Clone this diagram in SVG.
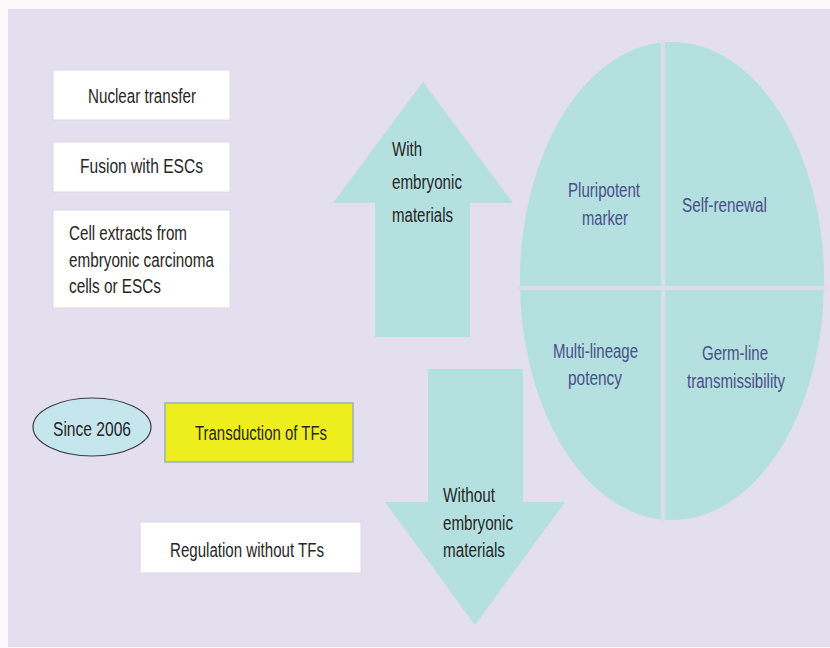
<svg xmlns="http://www.w3.org/2000/svg" width="830" height="648" viewBox="0 0 830 648">
  <style>
    .lbl { font-family: "Liberation Sans Narrow", "Liberation Sans", Arial, sans-serif; font-size: 20px; fill: #262626; }
    .prop { font-family: "Liberation Sans Narrow", "Liberation Sans", Arial, sans-serif; font-size: 20px; fill: #4a4e8a; }
    .box { fill: #ffffff; stroke: #d9d9e2; stroke-width: 1; }
    .teal { fill: #b4e0df; }
    .divider { stroke: #dcdcea; stroke-width: 4; }
  </style>

  <!-- page and panel -->
  <rect x="0" y="0" width="830" height="648" fill="#fbf7fa"/>
  <rect x="8" y="9" width="822" height="638" fill="#e3dfee"/>

  <!-- left column: methods -->
  <g id="nuclear-transfer">
    <rect class="box" x="53" y="70" width="177" height="50"/>
    <text class="lbl" x="88" y="103" textLength="108" lengthAdjust="spacingAndGlyphs">Nuclear transfer</text>
  </g>
  <g id="fusion-escs">
    <rect class="box" x="53" y="142" width="177" height="50"/>
    <text class="lbl" x="80" y="173" textLength="123" lengthAdjust="spacingAndGlyphs">Fusion with ESCs</text>
  </g>
  <g id="cell-extracts">
    <rect class="box" x="53" y="210" width="177" height="98"/>
    <text class="lbl" x="69" y="240" textLength="118" lengthAdjust="spacingAndGlyphs">Cell extracts from</text>
    <text class="lbl" x="69" y="267" textLength="145" lengthAdjust="spacingAndGlyphs">embryonic carcinoma</text>
    <text class="lbl" x="69" y="293" textLength="92" lengthAdjust="spacingAndGlyphs">cells or ESCs</text>
  </g>
  <g id="since-2006">
    <ellipse cx="92" cy="427" rx="59" ry="29" fill="#c6e6ee" stroke="#3a3a44" stroke-width="1.2"/>
    <text class="lbl" x="53" y="436" textLength="78" lengthAdjust="spacingAndGlyphs">Since 2006</text>
  </g>
  <g id="transduction">
    <rect x="165" y="403" width="188" height="59" fill="#eeee1e" stroke="#9fb0b4" stroke-width="1.5"/>
    <text class="lbl" x="195" y="440" textLength="132" lengthAdjust="spacingAndGlyphs">Transduction of TFs</text>
  </g>
  <g id="regulation">
    <rect class="box" x="140" y="522" width="221" height="51"/>
    <text class="lbl" x="170" y="557" textLength="154" lengthAdjust="spacingAndGlyphs">Regulation without TFs</text>
  </g>

  <!-- big arrows -->
  <g id="connectors">
    <g id="arrow-up">
      <polygon class="teal" points="423,82 513,203 470,203 470,337 375,337 375,203 333,203"/>
      <text class="lbl" x="392" y="156" textLength="30" lengthAdjust="spacingAndGlyphs">With</text>
      <text class="lbl" x="392" y="189" textLength="70" lengthAdjust="spacingAndGlyphs">embryonic</text>
      <text class="lbl" x="392" y="222" textLength="61" lengthAdjust="spacingAndGlyphs">materials</text>
    </g>
    <g id="arrow-down">
      <polygon class="teal" points="428,369 523,369 523,502 565,502 475,625 385,502 428,502"/>
      <text class="lbl" x="443" y="502" textLength="52" lengthAdjust="spacingAndGlyphs">Without</text>
      <text class="lbl" x="443" y="530" textLength="70" lengthAdjust="spacingAndGlyphs">embryonic</text>
      <text class="lbl" x="443" y="557" textLength="62" lengthAdjust="spacingAndGlyphs">materials</text>
    </g>
  </g>

  <!-- pluripotency properties -->
  <g id="properties">
    <ellipse class="teal" cx="672" cy="281" rx="152" ry="239"/>
    <line class="divider" x1="663" y1="40" x2="663" y2="522"/>
    <line class="divider" x1="518" y1="288" x2="826" y2="288"/>
  </g>
  <g id="pluripotent-marker">
    <text class="prop" x="568" y="197" textLength="72" lengthAdjust="spacingAndGlyphs">Pluripotent</text>
    <text class="prop" x="582" y="225" textLength="46" lengthAdjust="spacingAndGlyphs">marker</text>
  </g>
  <g id="self-renewal">
    <text class="prop" x="682" y="212" textLength="85" lengthAdjust="spacingAndGlyphs">Self-renewal</text>
  </g>
  <g id="multi-lineage">
    <text class="prop" x="553" y="358" textLength="85" lengthAdjust="spacingAndGlyphs">Multi-lineage</text>
    <text class="prop" x="568" y="385" textLength="54" lengthAdjust="spacingAndGlyphs">potency</text>
  </g>
  <g id="germ-line">
    <text class="prop" x="702" y="360" textLength="66" lengthAdjust="spacingAndGlyphs">Germ-line</text>
    <text class="prop" x="687" y="388" textLength="98" lengthAdjust="spacingAndGlyphs">transmissibility</text>
  </g>
</svg>
